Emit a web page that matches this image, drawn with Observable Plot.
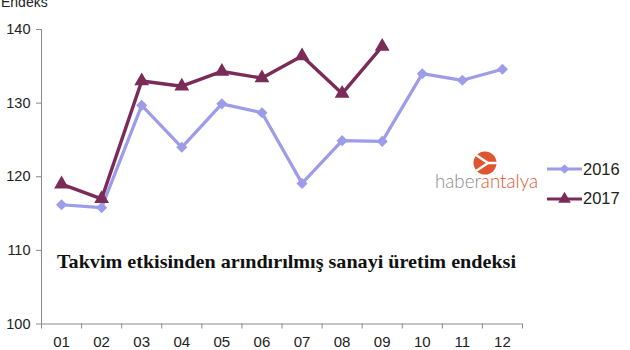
<!DOCTYPE html>
<html>
<head>
<meta charset="utf-8">
<script src="https://cdn.jsdelivr.net/npm/d3@7"></script>
<script src="https://cdn.jsdelivr.net/npm/@observablehq/plot@0.6"></script>
<style>
  html, body { margin: 0; padding: 0; background: #fff; }
  svg { display: block; }
</style>
</head>
<body>
<div id="chart"></div>
<script>
const months = ["01","02","03","04","05","06","07","08","09","10","11","12"];
const values2016 = [116.2, 115.8, 129.7, 124.0, 129.9, 128.7, 119.1, 124.9, 124.8, 134.0, 133.1, 134.6];
const values2017 = [119.0, 117.0, 133.0, 132.3, 134.3, 133.4, 136.4, 131.3, 137.7];
const yTicks = [100, 110, 120, 130, 140];
const seriesNames = ["2016", "2017"];
const colors = ["#9c9ce8", "#7a2b58"];
const yLabel = "Endeks";
const title = "Takvim etkisinden arındırılmış sanayi üretim endeksi";

const rows = [];
values2016.forEach((v, i) => rows.push({series: "2016", x: i + 1, v}));
values2017.forEach((v, i) => rows.push({series: "2017", x: i + 1, v}));
const d16 = rows.filter(d => d.series === "2016");
const d17 = rows.filter(d => d.series === "2017");
const idx = months.map((m, i) => i + 1);
const bounds = [0.5, ...idx.map(i => i + 0.5)];

const plot = Plot.plot({
  width: 630,
  height: 350,
  marginLeft: 41,
  marginRight: 108,
  marginTop: 29,
  marginBottom: 26.5,
  x: {type: "linear", domain: [0.5, 12.5], axis: null},
  y: {domain: [100, 140], axis: null},
  style: {fontFamily: "Arial, 'Liberation Sans', sans-serif", background: "#fff", color: "#222"},
  marks: [
    Plot.ruleX([0.5], {stroke: "#8a8a8a", strokeWidth: 1}),
    Plot.ruleY([100], {stroke: "#8a8a8a", strokeWidth: 1}),
    Plot.axisY(yTicks, {tickSize: 5, tickPadding: 6, fontSize: 14.5, stroke: "#8a8a8a", fill: "#222", label: null}),
    Plot.axisX(bounds, {tickSize: 5, tickFormat: () => "", stroke: "#8a8a8a", label: null}),
    Plot.axisX(idx, {tickSize: 0, tickPadding: 12, fontSize: 15, fill: "#222", tickFormat: i => months[i - 1], label: null}),
    Plot.line(d16, {x: "x", y: "v", stroke: colors[0], strokeWidth: 3.2}),
    Plot.line(d17, {x: "x", y: "v", stroke: colors[1], strokeWidth: 3.4}),
    Plot.dot(d16, {x: "x", y: "v", symbol: "diamond2", r: 5, fill: colors[0], stroke: null}),
    Plot.dot(d17, {x: "x", y: "v", symbol: "triangle", r: 5.5, fill: colors[1]})
  ]
});
document.getElementById("chart").appendChild(plot);

const svg = d3.select(plot);
// y label
svg.append("text").attr("x", 1).attr("y", 7).attr("text-anchor", "start")
  .attr("font-family", "Arial, 'Liberation Sans', sans-serif").attr("font-size", 14).attr("fill", "#222")
  .text(yLabel);
// title
svg.append("text").attr("x", 57).attr("y", 268).attr("text-anchor", "start")
  .attr("font-family", "'Liberation Serif', 'Times New Roman', serif").attr("font-weight", "bold")
  .attr("font-size", 19).attr("fill", "#111")
  .attr("textLength", 459).attr("lengthAdjust", "spacingAndGlyphs")
  .text(title);

// watermark logo
const logo = svg.append("g");
logo.append("circle").attr("cx", 485).attr("cy", 163).attr("r", 11.5).attr("fill", "#df5530");
logo.append("path").attr("d", "M476,155 L488,163 L476,171 M488,163 L497,163")
  .attr("stroke", "#fff").attr("stroke-width", 2.5).attr("fill", "none");
const wm = logo.append("text").attr("x", 435).attr("y", 188).attr("text-anchor", "start")
  .attr("font-family", "Lato, 'Open Sans', sans-serif").attr("font-weight", 300).attr("font-size", 20)
  .attr("textLength", 103).attr("lengthAdjust", "spacingAndGlyphs");
wm.append("tspan").attr("fill", "#8c8c8c").text("haber");
wm.append("tspan").attr("fill", "#df5530").text("antalya");

// legend
const leg = [{y: 169, ty: 175}, {y: 199, ty: 204}];
seriesNames.forEach((s, i) => {
  const g = svg.append("g");
  g.append("line").attr("x1", 547).attr("x2", 582).attr("y1", leg[i].y).attr("y2", leg[i].y)
    .attr("stroke", colors[i]).attr("stroke-width", 3);
  g.append("path")
    .attr("d", d3.symbol(i === 0 ? d3.symbolDiamond2 : d3.symbolTriangle, i === 0 ? 60 : 70)())
    .attr("transform", `translate(564.5,${leg[i].y})`).attr("fill", colors[i]);
  g.append("text").attr("x", 583).attr("y", leg[i].ty).attr("text-anchor", "start")
    .attr("font-family", "Arial, 'Liberation Sans', sans-serif").attr("font-size", 16.5).attr("fill", "#222")
    .text(s);
});
</script>
</body>
</html>
